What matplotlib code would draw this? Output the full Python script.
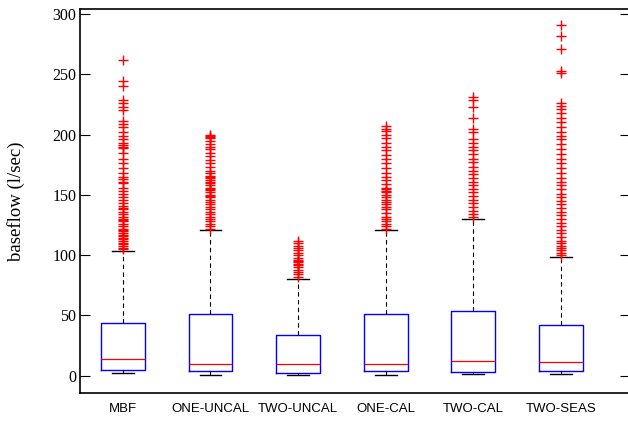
import matplotlib
matplotlib.use("Agg")
import matplotlib.pyplot as plt

categories = ["MBF", "ONE-UNCAL", "TWO-UNCAL", "ONE-CAL", "TWO-CAL", "TWO-SEAS"]
lower_whisker = [2.0, 0.3, 0.3, 0.3, 1.1, 1.1]
q1 = [4.7, 3.6, 2.0, 3.6, 2.8, 3.6]
median = [13.6, 10.0, 10.0, 10.0, 11.9, 11.1]
q3 = [43.7, 50.9, 34.0, 50.9, 53.4, 42.0]
upper_whisker = [103.4, 121.0, 80.2, 121.0, 130.0, 98.7]

fliers_mbf = [262, 244, 240, 229, 226, 223, 220, 211, 209, 206, 202, 199, 196, 193,
              191, 190, 189, 185, 180, 176, 172, 168, 165, 163, 161, 160, 156, 153,
              151, 148, 146, 143, 141, 139, 138, 136, 134, 132, 130, 129, 128, 126,
              124, 122, 121, 120, 118, 117, 116, 114, 113, 112, 110, 109, 108, 106, 105]
fliers_one_uncal = [200, 199, 198, 197, 195, 192, 190, 188, 185, 182, 179, 176, 173, 170,
                    168, 166, 165, 164, 162, 161, 160, 158, 156, 155, 154, 152, 150, 149,
                    148, 146, 144, 142, 140, 138, 136, 134, 132, 130, 128, 126, 124, 122]
fliers_two_uncal = [112, 110, 108, 106, 104, 102, 100, 98, 96, 95, 94, 93, 92, 90, 88,
                    86, 84, 82]
fliers_one_cal = [207, 205, 203, 200, 197, 193, 190, 187, 183, 180, 176, 172, 168, 165,
                  162, 159, 156, 155, 153, 152, 150, 148, 146, 144, 142, 140, 138, 135,
                  132, 130, 128, 126, 124, 122]
fliers_two_cal = [231, 229, 223, 214, 205, 202, 196, 193, 190, 187, 184, 180, 177, 173,
                  170, 167, 164, 161, 158, 155, 152, 149, 146, 143, 140, 137, 134, 132]
fliers_two_seas = [291, 282, 271, 253, 251, 226, 224, 221, 218, 214, 210, 206, 202, 199,
                   196, 192, 188, 184, 180, 176, 172, 168, 164, 161, 158, 155, 151, 148,
                   145, 142, 139, 136, 133, 130, 127, 124, 121, 118, 115, 112, 110, 108,
                   106, 104, 102, 100]
fliers = [fliers_mbf, fliers_one_uncal, fliers_two_uncal, fliers_one_cal,
          fliers_two_cal, fliers_two_seas]

yticks = [0, 50, 100, 150, 200, 250, 300]

stats = []
for i, name in enumerate(categories):
    stats.append(dict(label=name, whislo=lower_whisker[i], q1=q1[i], med=median[i],
                      q3=q3[i], whishi=upper_whisker[i], fliers=fliers[i]))

W, H = 628, 421
fig = plt.figure(figsize=(W / 100, H / 100), dpi=100)
ax = fig.add_axes([80 / W, 1 - 393 / H, 550 / W, (393 - 9) / H])

ax.bxp(stats, positions=range(1, 7), widths=0.5, showfliers=True,
       boxprops=dict(color="#0000ff", linewidth=1.0),
       medianprops=dict(color="#ff0000", linewidth=0.9),
       whiskerprops=dict(color="black", linestyle=(0, (4, 3)), linewidth=0.8),
       capprops=dict(color="black", linewidth=1.0),
       flierprops=dict(marker="+", markeredgecolor="#ff0000", markersize=7.5,
                       markeredgewidth=1.0, linestyle="none"),
       capwidths=0.25)

ax.set_xlim(0.51, 6.79)
ax.set_ylim(-14.3, 304.1)
ax.set_yticks(yticks)
ax.set_yticklabels([str(t) for t in yticks], fontfamily="Liberation Serif", fontsize=11.5)
ax.set_xticks(range(1, 7))
ax.set_xticklabels(categories, fontfamily="Liberation Sans", fontsize=9.5)
ax.tick_params(axis="y", direction="in", length=7, width=0.8, right=True, pad=2.5)
ax.tick_params(axis="x", length=0, pad=7)
for s in ax.spines.values():
    s.set_linewidth(1.2)
ax.set_ylabel("baseflow (l/sec)", fontfamily="Liberation Serif", fontsize=13.5)
ax.yaxis.set_label_coords(-55 / 550, 0.5)

fig.savefig("out.png", dpi=100)
